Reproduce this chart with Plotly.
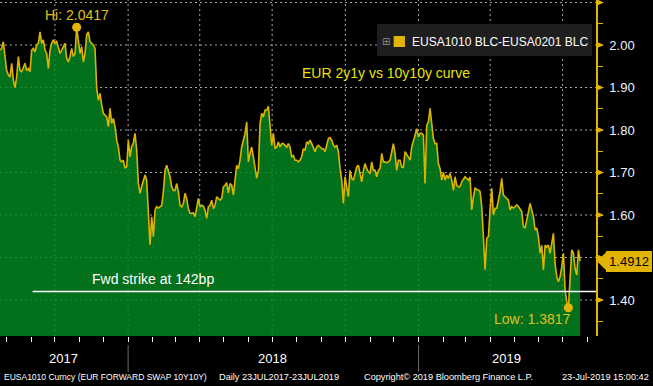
import pandas as pd
import plotly.graph_objects as go

# ---------------- data ----------------
start_date = "2017-07-24"
end_date = "2019-07-23"
axis_end = "2019-08-12"

spread_2017 = [
    1.988, 1.992, 2.008, 1.980, 1.940, 1.930, 1.925, 1.957, 1.918, 1.900,
    1.925, 1.973, 1.940, 1.937, 1.950, 1.957, 1.940, 1.945, 1.937, 1.988,
    1.992, 1.984, 2.000, 2.004, 2.031, 2.004, 2.012, 1.988, 1.980, 1.945,
    1.988, 2.004, 2.012, 2.004, 2.008, 1.996, 1.980, 1.988, 1.996, 2.004,
    1.969, 1.960, 1.973, 1.992, 1.973, 1.980, 2.0417, 2.016, 1.980, 1.996,
    1.960, 1.980, 2.024, 2.031, 2.008, 2.004, 2.000, 1.992, 1.900, 1.870,
    1.886, 1.859, 1.839, 1.835, 1.831, 1.808, 1.851, 1.816, 1.827, 1.808,
    1.776, 1.761, 1.729, 1.725, 1.729, 1.710, 1.714, 1.776, 1.737, 1.761,
    1.769, 1.792, 1.753, 1.675, 1.651, 1.667, 1.682, 1.694, 1.682, 1.596,
    1.530, 1.596, 1.549, 1.612, 1.620, 1.616,
]
spread_2018a = [
    1.619, 1.623, 1.655, 1.705, 1.717, 1.705, 1.690, 1.666, 1.658, 1.658,
    1.674, 1.655, 1.623, 1.619, 1.627, 1.651, 1.639, 1.615, 1.604, 1.604,
    1.605, 1.596, 1.623, 1.639, 1.619, 1.623, 1.621, 1.611, 1.592, 1.619,
    1.623, 1.635, 1.615, 1.623, 1.643, 1.639, 1.635, 1.639, 1.666, 1.670,
    1.676, 1.652, 1.674, 1.670, 1.647, 1.682, 1.717, 1.709, 1.729, 1.760,
    1.776, 1.792, 1.819, 1.725, 1.745, 1.760, 1.737, 1.705, 1.686, 1.705,
    1.815, 1.839, 1.831, 1.847, 1.847, 1.856, 1.811, 1.764, 1.792, 1.756,
    1.760, 1.772, 1.760, 1.768, 1.768, 1.764, 1.760, 1.768, 1.760, 1.737,
    1.740, 1.729, 1.729, 1.725, 1.729, 1.737, 1.756, 1.752, 1.772, 1.768,
]
spread_2018b = [
    1.776, 1.768, 1.760, 1.749, 1.760, 1.764, 1.760, 1.756, 1.756, 1.749,
    1.764, 1.780, 1.782, 1.776, 1.764, 1.760, 1.764, 1.749, 1.709, 1.682,
    1.627, 1.690, 1.666, 1.643, 1.705, 1.686, 1.682, 1.698, 1.713, 1.717,
    1.701, 1.678, 1.705, 1.721, 1.709, 1.701, 1.698, 1.725, 1.705, 1.705,
    1.690, 1.705, 1.709, 1.745, 1.725, 1.725, 1.723, 1.725, 1.729, 1.749,
    1.768, 1.745, 1.705, 1.729, 1.729, 1.713, 1.712, 1.749, 1.741, 1.733,
    1.729, 1.760, 1.772, 1.788, 1.803, 1.784, 1.792, 1.792, 1.788, 1.674,
    1.810, 1.819, 1.851, 1.815, 1.780, 1.768, 1.768, 1.721, 1.709, 1.682,
    1.701, 1.682, 1.694, 1.686, 1.698, 1.682, 1.658, 1.690, 1.670, 1.666,
]
spread_2019 = [
    1.667, 1.678, 1.686, 1.690, 1.686, 1.682, 1.689, 1.612, 1.643, 1.663,
    1.660, 1.659, 1.655, 1.620, 1.549, 1.471, 1.545, 1.549, 1.612, 1.663,
    1.600, 1.616, 1.616, 1.635, 1.655, 1.686, 1.647, 1.643, 1.639, 1.635,
    1.612, 1.620, 1.616, 1.620, 1.624, 1.620, 1.612, 1.608, 1.573, 1.569,
    1.588, 1.612, 1.627, 1.612, 1.596, 1.565, 1.569, 1.549, 1.510, 1.529,
    1.471, 1.529, 1.525, 1.529, 1.510, 1.533, 1.557, 1.486, 1.455, 1.443,
    1.455, 1.478, 1.510, 1.424, 1.396, 1.3817, 1.455, 1.518, 1.510, 1.474,
    1.459, 1.518, 1.4912,
]

ytick_vals = [1.40, 1.50, 1.60, 1.70, 1.80, 1.90, 2.00, 2.10]
# 1.50 label is hidden behind the last-value flag; 2.10 sits on the top edge
ytick_text = ["1.40", "", "1.60", "1.70", "1.80", "1.90", "2.00", ""]
grid_dates = ["2017-10-01", "2018-01-01", "2018-04-01", "2018-07-01",
              "2018-10-01", "2019-01-01", "2019-04-01", "2019-07-01"]
year_labels = ["2017", "2018", "2019"]
year_centers = ["2017-10-12", "2018-07-02", "2019-04-22"]
year_starts = ["2018-01-01", "2019-01-01"]
strike_level = 1.42
strike_start = "2017-09-03"
y_range = [1.3153, 2.1059]

values = spread_2017 + spread_2018a + spread_2018b + spread_2019
dates = pd.date_range(start_date, end_date, periods=len(values))
i_hi = max(range(len(values)), key=lambda i: values[i])
i_lo = min(range(len(values)), key=lambda i: values[i])
last_value = values[-1]

GOLD = "#e2b406"
FONT = "Liberation Sans"
GRID = "#a8a8a8"
PLOT_W, PLOT_H = 596, 336   # plot-area size in px (figure minus margins)

fig = go.Figure()

# dotted grid as a trace underneath the translucent area fill
gx, gy = [], []
for gv in ytick_vals:
    gx += [start_date, axis_end, None]
    gy += [gv, gv, None]
for gd in grid_dates:
    gx += [gd, gd, None]
    gy += [y_range[0], y_range[1], None]
fig.add_trace(go.Scatter(
    x=gx, y=gy, mode="lines", line=dict(color=GRID, width=1, dash="2px,3px"),
    hoverinfo="skip", connectgaps=False,
))

fig.add_trace(go.Scatter(
    x=dates, y=values, mode="lines",
    line=dict(color="#dcb400", width=1.6),
    fill="tozeroy", fillcolor="rgba(3,134,33,0.84)",
    hoverinfo="skip",
))
fig.add_trace(go.Scatter(
    x=[dates[i_hi], dates[i_lo]], y=[values[i_hi], values[i_lo]],
    mode="markers", marker=dict(color=GOLD, size=9), cliponaxis=False,
    hoverinfo="skip",
))

t0 = pd.Timestamp(start_date)
t1 = pd.Timestamp(axis_end)
def xpaper(d):
    return (pd.Timestamp(d) - t0) / (t1 - t0)
def ypaper(v):
    return (v - y_range[0]) / (y_range[1] - y_range[0])
def px_x(p):   # pixel offset from right edge of plot -> paper x
    return 1 + p / PLOT_W
def px_y(p):
    return p / PLOT_H

shapes = []
# gold tick triangles on the right-hand axis
for tv in ytick_vals:
    yp = ypaper(tv)
    path = (f"M {px_x(0)},{yp + px_y(3.5)} L {px_x(8)},{yp} "
            f"L {px_x(0)},{yp - px_y(3.5)} Z")
    shapes.append(dict(type="path", xref="paper", yref="paper", path=path,
                       fillcolor=GOLD, line=dict(width=0)))
# last value arrow
yl = ypaper(last_value)
shapes.append(dict(type="path", xref="paper", yref="paper",
                   path=(f"M {px_x(1)},{yl} L {px_x(11)},{yl + px_y(10)} "
                         f"L {px_x(11)},{yl - px_y(10)} Z"),
                   fillcolor=GOLD, line=dict(width=0)))
shapes += [
    dict(type="line", xref="x", yref="y", x0=strike_start, x1=axis_end,
         y0=strike_level, y1=strike_level, line=dict(color="white", width=1.5)),
    dict(type="rect", xref="paper", yref="paper", x0=0.6326, x1=0.9933,
         y0=0.8333, y1=0.9286, fillcolor="#1e1e1e", line=dict(width=0), layer="above"),
    dict(type="rect", xref="paper", yref="paper", x0=0.6605, x1=0.6795,
         y0=0.8601, y1=0.8929, fillcolor=GOLD, line=dict(width=0), layer="above"),
]
for ys in year_starts:
    shapes.append(dict(type="line", xref="paper", yref="paper", x0=xpaper(ys), x1=xpaper(ys),
                       y0=-0.027, y1=-0.107, line=dict(color="#6a6a6a", width=1)))

ann = []
ann.append(dict(text="⊞", x=0.6475, y=0.876, xref="paper", yref="paper", showarrow=False,
                yanchor="middle", font=dict(family="DejaVu Sans", size=10, color="#8a8a8a")))
ann.append(dict(text="EUSA1010 BLC-EUSA0201 BLC", x=0.688, y=0.876, xref="paper", yref="paper",
                xanchor="left", yanchor="middle", showarrow=False,
                font=dict(family=FONT, size=12, color="white")))
ann.append(dict(text="EUR 2y1y vs 10y10y curve", x=0.792, y=0.783, xref="paper", yref="paper",
                yanchor="middle", showarrow=False, font=dict(family=FONT, size=14, color="#e4e400")))
ann.append(dict(text=f"Hi: {values[i_hi]:.4f}", x=dates[i_hi], y=values[i_hi], showarrow=False,
                yshift=12, yanchor="middle", font=dict(family=FONT, size=14, color="#e0c020")))
ann.append(dict(text=f"Low: {values[i_lo]:.4f}", x=dates[i_lo], y=values[i_lo], showarrow=False,
                yshift=-11, xanchor="right", xshift=4, yanchor="middle",
                font=dict(family=FONT, size=14, color="#e0c020")))
ann.append(dict(text="Fwd strike at 142bp", x="2018-02-01", y=strike_level, showarrow=False,
                yshift=13, yanchor="middle", font=dict(family=FONT, size=14, color="white")))
ann.append(dict(text=f"{last_value:.4f}", x=1, xref="paper", y=last_value, yref="y",
                xanchor="left", yanchor="middle", xshift=10, showarrow=False, bgcolor=GOLD,
                bordercolor=GOLD, borderwidth=1, borderpad=1, width=42, height=17,
                font=dict(family=FONT, size=13, color="black")))
for lab, c in zip(year_labels, year_centers):
    ann.append(dict(text=lab, x=c, xref="x", y=-0.066, yref="paper", showarrow=False,
                    yanchor="middle", font=dict(family=FONT, size=13, color="white")))
foot_y = -0.122
ann.append(dict(text="EUSA1010 Curncy (EUR FORWARD SWAP 10Y10Y)",
                x=2 / 596, xref="paper", y=foot_y, yref="paper", xanchor="left", yanchor="middle",
                showarrow=False, font=dict(family=FONT, size=8.5, color="white")))
ann.append(dict(text="Daily 23JUL2017-23JUL2019",
                x=217 / 596, xref="paper", y=foot_y, yref="paper", xanchor="left", yanchor="middle",
                showarrow=False, font=dict(family=FONT, size=9.2, color="white")))
ann.append(dict(text="Copyright© 2019 Bloomberg Finance L.P.", x=362 / 596, xref="paper", y=foot_y,
                yref="paper", xanchor="left", yanchor="middle", showarrow=False,
                font=dict(family=FONT, size=9.2, color="white")))
ann.append(dict(text="23-Jul-2019 15:00:42", x=651 / 596, xref="paper", y=foot_y, yref="paper",
                xanchor="right", yanchor="middle", showarrow=False,
                font=dict(family=FONT, size=9.2, color="white")))

fig.update_layout(
    width=653, height=386,
    margin=dict(l=0, r=57, t=0, b=50, autoexpand=False),
    paper_bgcolor="black", plot_bgcolor="black",
    showlegend=False,
    xaxis=dict(
        type="date", range=[start_date, axis_end], automargin=False,
        showgrid=False,
        tick0="2017-01-01", dtick="M3",
        ticks="outside", ticklen=5, tickcolor="white", tickwidth=1,
        showticklabels=False, showline=False, zeroline=False,
        minor=dict(tick0="2017-01-01", dtick="M1", ticks="outside", ticklen=5,
                   tickcolor="white", showgrid=False),
    ),
    yaxis=dict(
        side="right", range=y_range, automargin=False,
        tickmode="array", tickvals=ytick_vals, ticktext=ytick_text,
        showgrid=False,
        ticks="", showline=True, linecolor=GOLD, linewidth=1.5, zeroline=False,
        tickfont=dict(family=FONT, size=13, color="#eef2ff"),
        ticklabelstandoff=9,
        minor=dict(tick0=1.40, dtick=0.05, ticks="outside", ticklen=5, tickcolor=GOLD,
                   showgrid=False),
    ),
    shapes=shapes,
    annotations=ann,
)

fig.write_html(
    "out.html",
    config={"displayModeBar": False},
    post_script="document.body.style.margin='0';document.body.style.overflow='hidden';",
)
